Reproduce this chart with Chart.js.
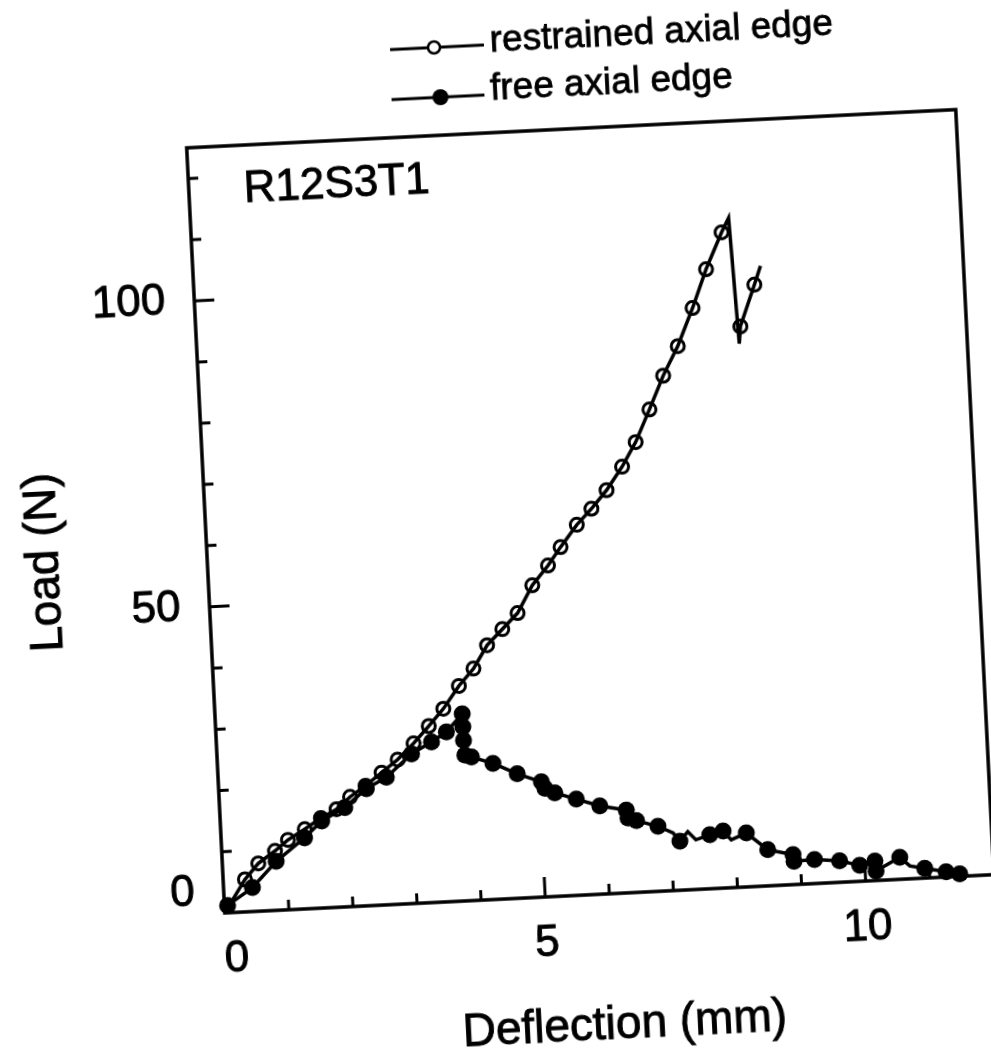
<!DOCTYPE html>
<html>
<head>
<meta charset="utf-8">
<script src="https://cdn.jsdelivr.net/npm/chart.js@4.4.1/dist/chart.umd.min.js"></script>
<style>
  html, body { margin: 0; padding: 0; background: #fff; overflow: hidden; }
  #wrap {
    position: absolute; left: 0; top: 0; width: 991px; height: 1057px;
    transform: rotate(-2.85deg); transform-origin: 495.5px 528.5px;
  }
</style>
</head>
<body>
<div id="wrap"><canvas id="c"></canvas></div>
<script>
// restrained axial edge (open circles)
const restrainedX = [0, 0.34, 0.56, 0.83, 1.04, 1.31, 1.57, 1.82, 2.04, 2.29, 2.55, 2.81, 3.07, 3.32, 3.56,
  3.82, 4.06, 4.29, 4.54, 4.79, 5.04, 5.30, 5.51, 5.78, 6.02, 6.27, 6.53, 6.76, 7.00, 7.24, 7.49, 7.75,
  7.99, 8.26, 8.38, 8.45, 8.48, 8.73, 8.84];
const restrainedY = [0, 5.3, 7.8, 9.7, 11.4, 13.0, 14.7, 16.0, 17.9, 19.6, 21.6, 23.6, 26.1, 28.8, 31.5,
  35.1, 37.8, 41.5, 44.0, 46.5, 50.9, 54.0, 56.9, 60.4, 62.9, 65.8, 69.5, 73.4, 78.6, 84.0, 88.7, 94.8,
  101.0, 106.9, 109.2, 88.6, 91.4, 98.1, 101.1];
const restrainedNoMarker = [0, 34, 35, 38];

// free axial edge (filled circles)
const freeX = [0.05, 0.45, 0.84, 1.30, 1.58, 1.95, 2.30, 2.62, 3.03, 3.35, 3.59, 3.85, 3.85, 3.85, 3.86,
  3.96, 4.29, 4.66, 5.03, 5.08, 5.23, 5.56, 5.92, 6.33, 6.35, 6.48, 6.81, 7.04, 7.14, 7.27, 7.39, 7.61,
  7.82, 7.94, 8.18, 8.50, 8.89, 8.90, 9.22, 9.61, 9.92, 10.16, 10.17, 10.55, 10.70, 10.93, 11.26, 11.47];
const freeY = [1.2, 3.9, 8.0, 11.6, 14.2, 16.2, 19.1, 20.8, 24.4, 26.2, 27.7, 30.5, 28.4, 26.2, 23.8,
  23.4, 22.2, 20.3, 18.8, 17.7, 16.9, 15.7, 14.4, 13.5, 12.2, 11.7, 10.6, 9.4, 8.0, 9.5, 8.1, 8.8,
  9.3, 7.8, 8.8, 5.9, 4.9, 3.8, 3.9, 3.5, 2.6, 3.2, 1.55, 3.6, 2.1, 1.6, 0.85, 0.4];
const freeNoMarker = [27, 29, 30, 33, 44];

// axes
const xTicks = [1, 2, 3, 4, 5, 6, 7, 8, 9, 10, 11];
const xLabelValues = [0, 5, 10];
const yTicks = [10, 20, 30, 40, 50, 60, 70, 80, 90, 100, 110, 120];
const yLabelValues = [0, 50, 100];

const FONT = '"Liberation Sans", Arial, Helvetica, sans-serif';

// filled text with a thin outline, closer to the heavy scanned type
function inkText(ctx, s, x, y) {
  ctx.fillText(s, x, y);
  ctx.strokeText(s, x, y);
}

const overlay = {
  id: "overlay",
  beforeDatasetsDraw(chart) {
    const { ctx, chartArea: a, scales: { x, y } } = chart;
    ctx.save();
    ctx.strokeStyle = "#000";
    ctx.lineWidth = 3.5;
    ctx.lineJoin = "miter";
    ctx.strokeRect(a.left, a.top, a.right - a.left, a.bottom - a.top);
    // inward tick marks
    ctx.lineWidth = 3;
    ctx.beginPath();
    xTicks.forEach((v) => {
      const px = x.getPixelForValue(v);
      const len = xLabelValues.includes(v) ? 20 : 10;
      ctx.moveTo(px, a.bottom);
      ctx.lineTo(px, a.bottom - len);
    });
    yTicks.forEach((v) => {
      const py = y.getPixelForValue(v);
      const len = yLabelValues.includes(v) ? 20 : 10;
      ctx.moveTo(a.left, py);
      ctx.lineTo(a.left + len, py);
    });
    ctx.stroke();
    ctx.restore();
  },
  afterDraw(chart) {
    const { ctx, chartArea: a, scales: { x, y } } = chart;
    ctx.save();
    ctx.fillStyle = "#000";
    ctx.strokeStyle = "#000";
    ctx.lineWidth = 0.9;
    ctx.font = "44px " + FONT;

    // tick labels
    ctx.textAlign = "center";
    ctx.textBaseline = "middle";
    xLabelValues.forEach((v) => {
      const shift = v === 0 ? 10 : 0;
      inkText(ctx, String(v), x.getPixelForValue(v) + shift, a.bottom + 47);
    });
    ctx.textAlign = "right";
    yLabelValues.forEach((v) => {
      const shift = v === 0 ? -21 : 0;
      inkText(ctx, String(v), a.left - 29, y.getPixelForValue(v) + shift);
    });

    // axis titles
    ctx.textAlign = "center";
    ctx.font = "46px " + FONT;
    inkText(ctx, "Deflection (mm)", 600, 1031);
    ctx.save();
    ctx.translate(44, 540);
    ctx.rotate(-Math.PI / 2);
    inkText(ctx, "Load (N)", 0, 0);
    ctx.restore();

    // specimen label
    ctx.font = "44px " + FONT;
    ctx.textAlign = "left";
    inkText(ctx, "R12S3T1", a.left + 55, a.top + 45);

    // legend
    ctx.font = "37px " + FONT;
    ctx.lineWidth = 3;
    ctx.beginPath();
    ctx.moveTo(414, 45); ctx.lineTo(508, 45);
    ctx.moveTo(413, 95); ctx.lineTo(506, 95);
    ctx.stroke();
    ctx.beginPath();
    ctx.arc(458, 45, 6, 0, Math.PI * 2);
    ctx.fillStyle = "#fff";
    ctx.fill();
    ctx.lineWidth = 2.5;
    ctx.stroke();
    ctx.fillStyle = "#000";
    ctx.beginPath();
    ctx.arc(462, 95, 8, 0, Math.PI * 2);
    ctx.fill();
    ctx.lineWidth = 0.8;
    inkText(ctx, "restrained axial edge", 514, 42);
    inkText(ctx, "free axial edge", 512, 90);
    ctx.restore();
  },
};

const toPoints = (xs, ys) => xs.map((v, i) => ({ x: v, y: ys[i] }));

new Chart(document.getElementById("c"), {
  type: "scatter",
  data: {
    datasets: [
      {
        label: "restrained axial edge",
        data: toPoints(restrainedX, restrainedY),
        showLine: true,
        borderColor: "#000",
        borderWidth: 3.5,
        pointRadius: (c) => (restrainedNoMarker.includes(c.dataIndex) ? 0 : 6.5),
        pointBorderWidth: 3,
        pointBorderColor: "#000",
        pointBackgroundColor: "rgba(0,0,0,0)",
        tension: 0,
        clip: false,
      },
      {
        label: "free axial edge",
        data: toPoints(freeX, freeY),
        showLine: true,
        borderColor: "#000",
        borderWidth: 3.5,
        pointRadius: (c) => (freeNoMarker.includes(c.dataIndex) ? 0 : 8.5),
        pointBorderWidth: 0,
        pointBackgroundColor: "#000",
        tension: 0,
        clip: false,
      },
    ],
  },
  options: {
    responsive: true,
    maintainAspectRatio: false,
    animation: false,
    layout: { padding: { left: 206, top: 133, right: 15, bottom: 158 } },
    scales: {
      x: { type: "linear", min: 0, max: 12, display: false },
      y: { type: "linear", min: 0, max: 125, display: false },
    },
    plugins: {
      legend: { display: false },
      tooltip: { enabled: false },
    },
  },
  plugins: [overlay],
});
</script>
</body>
</html>
